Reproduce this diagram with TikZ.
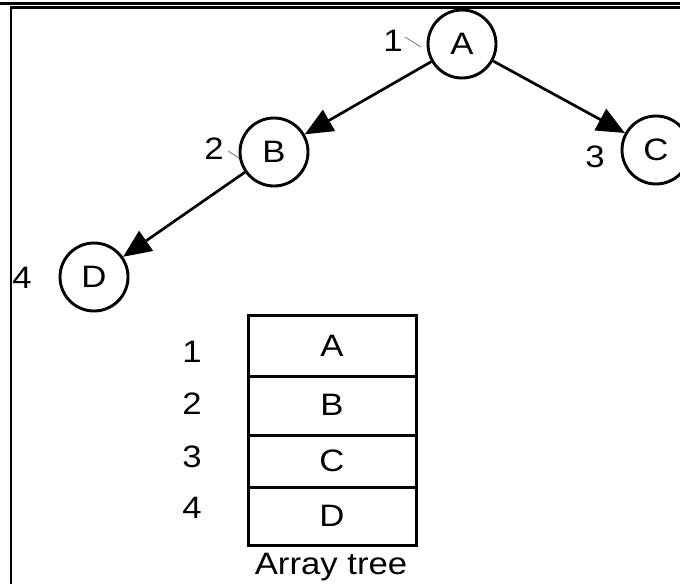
\documentclass[tikz,border=0pt]{standalone}
\usepackage{fontspec}
\setmainfont{Liberation Sans}[FakeStretch=1.12]
\usetikzlibrary{arrows.meta}
\begin{document}
\begin{tikzpicture}[x=1pt,y=-1pt,
  txt/.style={font=\fontsize{31}{34}\selectfont, inner sep=0pt},
  treenode/.style={circle, draw, line width=2.9pt, minimum size=68pt, inner sep=0pt, font=\fontsize{31}{34}\selectfont},
  link/.style={line width=2.7pt, -{Triangle[length=28pt,width=24pt]}},
  tick/.style={gray, line width=0.9pt},
  cell/.style={draw, line width=3pt}
]
\useasboundingbox (0,0) rectangle (680,584);
% frame lines
\draw[line width=2.4pt] (0,3.5) -- (680,3.5);
\draw[line width=2.4pt] (680,7.5) -- (11,7.5) -- (11,584);
% tree nodes
\node[treenode] (A) at (462,44) {A};
\node[treenode] (B) at (274,152) {B};
\node[treenode] (C) at (656,150) {C};
\node[treenode] (D) at (94,277) {D};
% index labels
\node[txt] (l1) at (393,41) {1};
\node[txt] (l2) at (214,149) {2};
\node[txt] (l3) at (595,157) {3};
\node[txt] (l4) at (22,278) {4};
\coordinate (t1a) at (405,37);
\coordinate (t1b) at (421,47);
\coordinate (t2a) at (228,151);
\coordinate (t2b) at (239,158);
\draw[tick] (t1a) -- (t1b);
\draw[tick] (t2a) -- (t2b);
% edges
\draw[link] (A) -- (B);
\draw[link] (A) -- (C);
\draw[link] (B) -- (D);
% array table
\draw[cell] (248,315) rectangle (416,545);
\draw[cell] (248,376) -- (416,376);
\draw[cell] (248,435) -- (416,435);
\draw[cell] (248,487) -- (416,487);
\node[txt] (a1) at (332,346) {A};
\node[txt] (a2) at (332,405) {B};
\node[txt] (a3) at (332,461) {C};
\node[txt] (a4) at (332,516) {D};
\node[txt] (n1) at (192,352) {1};
\node[txt] (n2) at (192,404) {2};
\node[txt] (n3) at (192,457) {3};
\node[txt] (n4) at (192,508) {4};
\node[txt] (cap) at (331,567) {Array tree};
\end{tikzpicture}
\end{document}
